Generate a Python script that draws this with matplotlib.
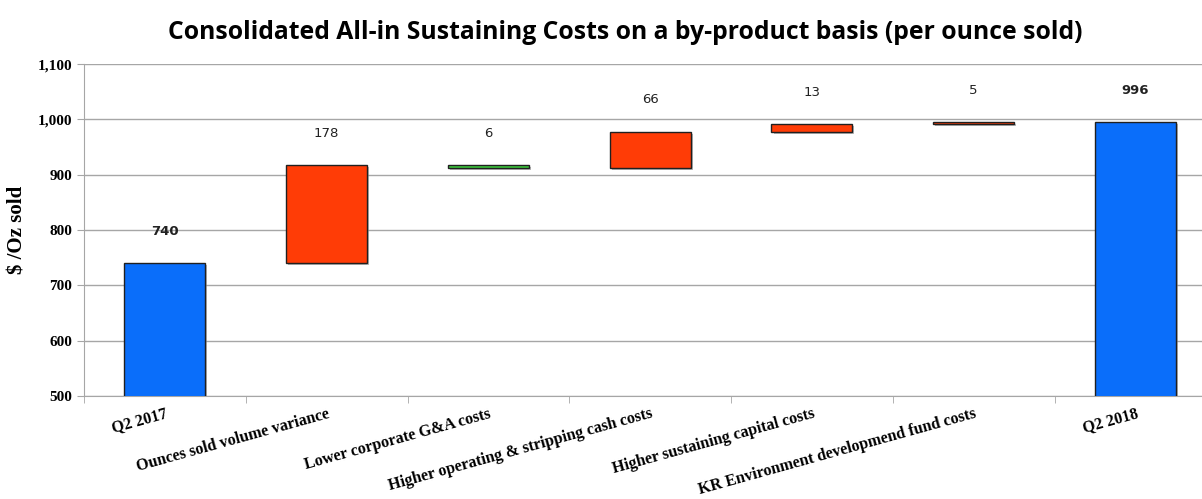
import matplotlib
matplotlib.use("Agg")
import matplotlib.pyplot as plt
import matplotlib.patheffects as pe
import numpy as np

categories = ["Q2 2017", "Ounces sold volume variance", "Lower corporate G&A costs",
              "Higher operating & stripping cash costs", "Higher sustaining capital costs",
              "KR Environment developmend fund costs", "Q2 2018"]
start_value = 740
changes = [178, -6, 66, 13, 5]
end_value = 996
labels = ["740", "178", "6", "66", "13", "5", "996"]

blue = "#0A6EFA"
up_color = "#FF3C06"
down_color = "#3CC83C"

fig = plt.figure(figsize=(12.02, 4.99), dpi=100)
ax = fig.add_axes([0.0699, 0.2064, 0.942, 0.6653])

shadow = [pe.SimplePatchShadow(offset=(1.5, -1.5), shadow_rgbFace="#888888", alpha=0.6), pe.Normal()]

x = np.arange(len(categories))
bottoms = []
heights = []
colors = []
bottoms.append(0)
heights.append(start_value)
colors.append(blue)
running = start_value
for c in changes:
    if c >= 0:
        bottoms.append(running)
        heights.append(c)
        colors.append(up_color)
    else:
        bottoms.append(running + c)
        heights.append(-c)
        colors.append(down_color)
    running += c
bottoms.append(0)
heights.append(end_value)
colors.append(blue)

bars = ax.bar(x, heights, bottom=bottoms, width=0.5, color=colors,
              edgecolor="#202020", linewidth=1.0, zorder=3)
for b in bars:
    b.set_path_effects(shadow)

# data labels above each bar
for i, (xi, lab) in enumerate(zip(x, labels)):
    top = bottoms[i] + heights[i]
    weight = "bold" if i in (0, len(x) - 1) else "normal"
    ax.text(xi, top + 57, lab, ha="center", va="center", fontsize=9.5,
            fontweight=weight, family="DejaVu Sans", color="#222222")

ax.set_ylim(500, 1100)
ax.set_xlim(-0.5, len(x) - 0.5)
ax.set_yticks(np.arange(500, 1101, 100))
ax.set_yticklabels([f"{v:,}" for v in range(500, 1101, 100)],
                   family="Liberation Serif", fontweight="bold", fontsize=11)
ax.yaxis.grid(True, color="#A6A6A6", linewidth=1.0, zorder=0)
ax.set_axisbelow(True)

ax.set_xticks(x)
ax.set_xticklabels(categories, rotation=15.5, ha="right", rotation_mode="anchor",
                   family="Liberation Serif", fontweight="bold", fontsize=11.6)
ax.tick_params(axis="x", which="major", length=0, pad=7)
ax.set_xticks(np.arange(-0.5, len(x) + 0.5, 1), minor=True)
ax.tick_params(axis="x", which="minor", length=5, color="#A6A6A6")
ax.tick_params(axis="y", length=5, color="#A6A6A6")

for s in ["top", "right"]:
    ax.spines[s].set_visible(False)
ax.spines["left"].set_color("#A6A6A6")
ax.spines["bottom"].set_color("#A6A6A6")

ax.set_ylabel("$ /Oz sold", family="Liberation Serif", fontweight="bold", fontsize=15)
ax.yaxis.set_label_coords(-0.05, 0.5)

fig.suptitle("Consolidated All-in Sustaining Costs on a by-product basis (per ounce sold)",
             x=0.52, y=0.96, fontsize=17.8, fontweight="bold", family="Open Sans")

fig.savefig("out.png", dpi=100)
